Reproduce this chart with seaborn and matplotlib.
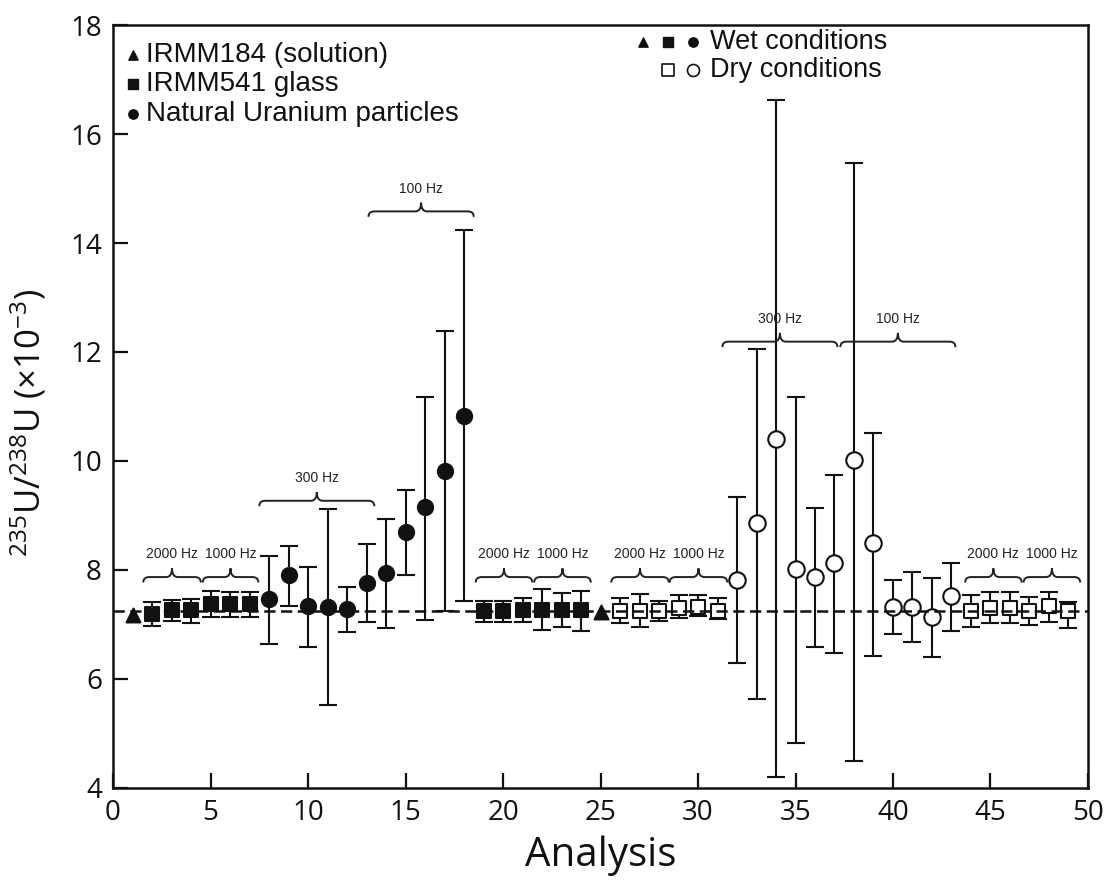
import numpy as np
import pandas as pd
import matplotlib
matplotlib.use("Agg")
import matplotlib.pyplot as plt
from matplotlib.path import Path
from matplotlib.patches import PathPatch
import seaborn as sns

# ---------------- data ----------------
analysis = list(range(1, 50))
ratio = [7.18, 7.20, 7.26, 7.26, 7.38, 7.37, 7.37,
         7.46, 7.90, 7.33, 7.32, 7.29, 7.76, 7.95, 8.69, 9.15, 9.81, 10.83,
         7.25, 7.25, 7.27, 7.27, 7.27, 7.27,
         7.22,
         7.25, 7.25, 7.25, 7.31, 7.32, 7.25,
         7.82, 8.87, 10.41, 8.02, 7.88, 8.12, 10.01, 8.50, 7.32, 7.32, 7.13, 7.53,
         7.25, 7.30, 7.30, 7.25, 7.33, 7.24]
upper = [np.nan, 7.41, 7.45, 7.47, 7.61, 7.60, 7.60,
         8.25, 8.44, 8.06, 9.11, 7.69, 8.48, 8.94, 9.47, 11.17, 12.38, 14.24,
         7.43, 7.43, 7.48, 7.65, 7.57, 7.62,
         np.nan,
         7.49, 7.56, 7.43, 7.54, 7.54, 7.48,
         9.34, 12.05, 16.63, 11.17, 9.13, 9.74, 15.47, 10.52, 7.82, 7.97, 7.86, 8.13,
         7.54, 7.59, 7.59, 7.51, 7.59, 7.42]
lower = [np.nan, 6.98, 7.06, 7.02, 7.14, 7.13, 7.13,
         6.65, 7.33, 6.59, 5.52, 6.86, 7.05, 6.94, 7.90, 7.09, 7.24, 7.43,
         7.05, 7.05, 7.04, 6.90, 6.96, 6.88,
         np.nan,
         7.02, 6.96, 7.07, 7.12, 7.15, 7.10,
         6.29, 5.63, 4.20, 4.83, 6.58, 6.47, 4.49, 6.43, 6.83, 6.67, 6.41, 6.88,
         6.95, 7.02, 7.02, 6.99, 7.05, 6.94]
sample = (["IRMM184"] + ["IRMM541"] * 6 + ["NU"] * 11 + ["IRMM541"] * 6 +
          ["IRMM184"] + ["IRMM541"] * 6 + ["NU"] * 12 + ["IRMM541"] * 6)
condition = ["Wet"] * 25 + ["Dry"] * 24
reference_ratio = 7.25

# brace annotations: start, end, label, level
brace_start = [1.55, 4.6, 7.5, 13.1, 18.6, 21.6, 25.55, 28.55, 31.25, 37.3, 43.7, 46.7]
brace_end = [4.5, 7.45, 13.4, 18.5, 21.5, 24.5, 28.5, 31.5, 37.15, 43.2, 46.6, 49.6]
brace_label = ["2000 Hz", "1000 Hz", "300 Hz", "100 Hz", "2000 Hz", "1000 Hz",
               "2000 Hz", "1000 Hz", "300 Hz", "100 Hz", "2000 Hz", "1000 Hz"]
brace_level = [7.87, 7.87, 9.27, 14.58, 7.87, 7.87, 7.87, 7.87, 12.19, 12.19, 7.87, 7.87]

legend_samples = ["IRMM184 (solution)", "IRMM541 glass", "Natural Uranium particles"]
legend_conditions = ["Wet conditions", "Dry conditions"]

df = pd.DataFrame({"analysis": analysis, "ratio": ratio, "upper": upper,
                   "lower": lower, "sample": sample, "condition": condition})

# ---------------- style ----------------
sns.set_style("ticks")
plt.rcParams["font.family"] = ["Open Sans", "DejaVu Sans"]
plt.rcParams["mathtext.default"] = "regular"
INK = "#111111"

fig = plt.figure(figsize=(11.05, 8.81), dpi=100)
ax = fig.add_axes([0.1023, 0.1056, 0.8823, 0.8660])

# error bars
err_lo = (df["ratio"] - df["lower"]).to_numpy()
err_hi = (df["upper"] - df["ratio"]).to_numpy()
ax.errorbar(df["analysis"], df["ratio"], yerr=[err_lo, err_hi], fmt="none",
            ecolor=INK, elinewidth=1.5, capsize=6.5, capthick=1.5, zorder=2)

marker_map = {"IRMM184": "^", "IRMM541": "s", "NU": "o"}
size_map = {"IRMM184": 100, "IRMM541": 95, "NU": 120}
for (smp, cond), sub in df.groupby(["sample", "condition"]):
    face = INK if cond == "Wet" else "white"
    size = size_map[smp] + (20 if cond == "Dry" else 0)
    sns.scatterplot(data=sub, x="analysis", y="ratio", marker=marker_map[smp],
                    s=size, color=face, edgecolor=INK, linewidth=1.5,
                    ax=ax, zorder=3, legend=False)

ax.axhline(reference_ratio, color=INK, lw=1.8, ls=(0, (4.5, 2.2)), zorder=4)

# braces
def draw_brace(x0, x1, yb, label, d=0.10, p=0.16, r=0.3):
    xm = (x0 + x1) / 2
    verts = [(x0, yb - d), (x0, yb), (x0 + r, yb), (xm - r, yb), (xm, yb),
             (xm, yb + p), (xm, yb), (xm + r, yb), (x1 - r, yb), (x1, yb),
             (x1, yb - d)]
    codes = [Path.MOVETO, Path.CURVE3, Path.CURVE3, Path.LINETO, Path.CURVE3,
             Path.CURVE3, Path.CURVE3, Path.CURVE3, Path.LINETO, Path.CURVE3,
             Path.CURVE3]
    ax.add_patch(PathPatch(Path(verts, codes), fill=False, ec="#222222",
                           lw=1.4, zorder=3))
    ax.text(xm, yb + 0.42, label, ha="center", va="center", fontsize=10,
            family=["Liberation Sans", "DejaVu Sans"], color="#222222")

for x0, x1, lab, lev in zip(brace_start, brace_end, brace_label, brace_level):
    draw_brace(x0, x1, lev, lab)

# axes
ax.set_xlim(0, 50)
ax.set_ylim(4, 18)
ax.set_xticks(np.arange(0, 51, 5))
ax.set_yticks(np.arange(4, 19, 2))
ax.tick_params(direction="in", length=11, width=1.6, labelsize=20,
               colors=INK, pad=8, top=False, right=False)
for sp in ax.spines.values():
    sp.set_linewidth(1.8)
    sp.set_color(INK)
    sp.set_visible(True)
ax.set_xlabel("Analysis", fontsize=29, color=INK, labelpad=6)
ax.set_ylabel(r"$^{235}$U/$^{238}$U ($\times$10$^{-3}$)", fontsize=25, color=INK)
ax.yaxis.set_label_coords(-0.066, 0.478)

# legend (sample types)
leg_font = ["Liberation Sans", "DejaVu Sans"]
rows = [0.961, 0.923, 0.884]
for yy, mk, txt in zip(rows, ["^", "s", "o"], legend_samples):
    ax.scatter([0.0205], [yy], marker=mk, s=45, color=INK,
               transform=ax.transAxes, clip_on=False, zorder=5)
    ax.text(0.034, yy, txt, transform=ax.transAxes, ha="left", va="center",
            fontsize=20, family=leg_font, color=INK)

# legend (conditions)
crow = [0.978, 0.941]
for xx, mk in zip([0.5436, 0.5692, 0.5949], ["^", "s", "o"]):
    ax.scatter([xx], [crow[0]], marker=mk, s=45, color=INK,
               transform=ax.transAxes, clip_on=False, zorder=5)
for xx, mk in zip([0.5692, 0.5949], ["s", "o"]):
    ax.scatter([xx], [crow[1]], marker=mk, s=75, facecolor="white",
               edgecolor=INK, linewidth=1.2, transform=ax.transAxes,
               clip_on=False, zorder=5)
for yy, txt in zip(crow, legend_conditions):
    ax.text(0.6123, yy, txt, transform=ax.transAxes, ha="left", va="center",
            fontsize=19.5, family=leg_font, color=INK)

fig.savefig("out.png", dpi=100, facecolor="white")
